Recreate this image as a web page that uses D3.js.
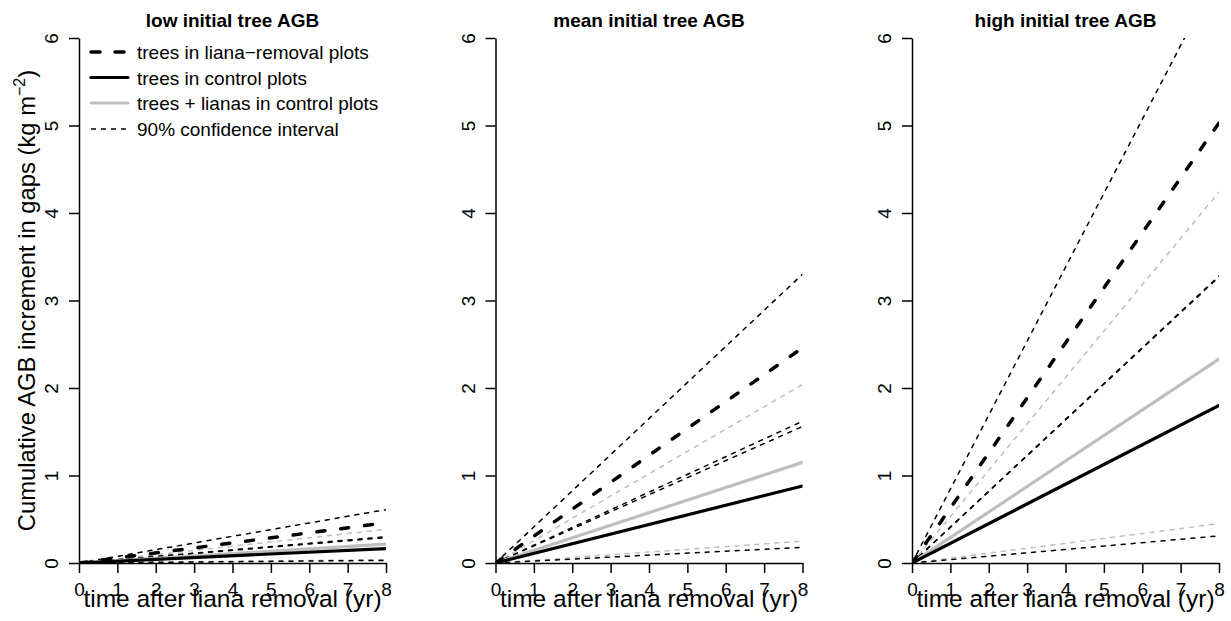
<!DOCTYPE html>
<html>
<head>
<meta charset="utf-8">
<script src="https://cdn.jsdelivr.net/npm/d3@7"></script>
<style>
  body { margin: 0; background: #fff; }
  svg, svg text { font-family: "Liberation Sans", Arial, Helvetica, sans-serif; }
</style>
</head>
<body>
<svg id="chart" width="1231" height="621"></svg>
<script>
// panel titles
panels = ["low initial tree AGB", "mean initial tree AGB", "high initial tree AGB"]

// time points (yr) of every line
times = [0, 8]

// cumulative AGB increment (kg m-2) at each time, one row per panel
removalMean = [[0, 0.46], [0, 2.46], [0, 5.03]]
removalUpper = [[0, 0.61], [0, 3.30], [0, 6.76]]
removalLower = [[0, 0.30], [0, 1.62], [0, 3.28]]
controlMean = [[0, 0.165], [0, 0.88], [0, 1.80]]
controlUpper = [[0, 0.29], [0, 1.56], [0, 3.27]]
controlLower = [[0, 0.03], [0, 0.18], [0, 0.31]]
lianaMean = [[0, 0.215], [0, 1.15], [0, 2.33]]
lianaUpper = [[0, 0.385], [0, 2.04], [0, 4.24]]
lianaLower = [[0, 0.04], [0, 0.25], [0, 0.45]]

xTicks = [0, 1, 2, 3, 4, 5, 6, 7, 8]
yTicks = [0, 1, 2, 3, 4, 5, 6]

legendLabels = ["trees in liana\u2212removal plots", "trees in control plots",
                "trees + lianas in control plots", "90% confidence interval"]

gray = "#bebebe"
styles = {
    thickDash: {stroke: "black", width: 3.5, dash: "8 16"},
    solid:     {stroke: "black", width: 3.2, dash: null},
    graySolid: {stroke: gray, width: 3.2, dash: null},
    ci:        {stroke: "black", width: 1.5, dash: "4 6"},
    grayCi:    {stroke: gray, width: 1.5, dash: "4 6"}
}

svg = d3.select("#chart")

top_ = 38
bottom = 563
plotW = 307
step = 416.5
left0 = 79

yScale = d3.scaleLinear().domain([0, 6]).range([bottom, top_])

function drawLine(g, xScale, vals, st){
    pts = times.map((t, i) => [t, vals[i]])
    line = d3.line().x(d => xScale(d[0])).y(d => yScale(d[1]))
    p = g.append("path")
        .attr("d", line(pts))
        .attr("fill", "none")
        .attr("stroke", st.stroke)
        .attr("stroke-width", st.width)
        .attr("stroke-linecap", "round")
    if(st.dash) p.attr("stroke-dasharray", st.dash)
}

panels.forEach(function(title, k){
    left = left0 + k*step
    xScale = d3.scaleLinear().domain([0, 8]).range([left, left + plotW])

    svg.append("clipPath").attr("id", "clip" + k)
        .append("rect")
        .attr("x", left).attr("y", top_)
        .attr("width", plotW).attr("height", bottom - top_)

    g = svg.append("g").attr("clip-path", `url(#clip${k})`)

    // confidence intervals first, then the means
    drawLine(g, xScale, lianaLower[k], styles.grayCi)
    drawLine(g, xScale, lianaUpper[k], styles.grayCi)
    drawLine(g, xScale, controlLower[k], styles.ci)
    drawLine(g, xScale, controlUpper[k], styles.ci)
    drawLine(g, xScale, removalLower[k], styles.ci)
    drawLine(g, xScale, removalUpper[k], styles.ci)
    drawLine(g, xScale, lianaMean[k], styles.graySolid)
    drawLine(g, xScale, controlMean[k], styles.solid)
    drawLine(g, xScale, removalMean[k], styles.thickDash)

    // axes
    ya = svg.append("g")
        .attr("transform", `translate(${left},0)`)
        .call(d3.axisLeft(yScale).tickValues(yTicks).tickSize(10).tickSizeOuter(0).tickFormat(d3.format("d")))
    ya.attr("font-family", null).attr("font-size", 19)
    ya.selectAll("text")
        .attr("transform", "rotate(-90)")
        .attr("x", 0).attr("y", -21).attr("dy", null)
        .attr("text-anchor", "middle")
        .style("font-size", "19px").attr("fill", "black")

    xa = svg.append("g")
        .attr("transform", `translate(0,${bottom})`)
        .call(d3.axisBottom(xScale).tickValues(xTicks).tickSize(10).tickSizeOuter(0).tickFormat(d3.format("d")))
    xa.attr("font-family", null).attr("font-size", 19)
    xa.selectAll("text")
        .attr("y", 33).attr("dy", null)
        .style("font-size", "19px").attr("fill", "black")

    svg.selectAll(".domain, .tick line")
        .attr("stroke", "black").attr("stroke-width", 1.5)

    // title
    svg.append("text")
        .attr("x", left + plotW/2).attr("y", 27)
        .attr("text-anchor", "middle")
        .attr("font-weight", "bold").attr("font-size", 19)
        .text(title)

    // x label
    svg.append("text")
        .attr("x", left + plotW/2).attr("y", 607)
        .attr("text-anchor", "middle")
        .attr("font-size", 24.5)
        .text("time after liana removal (yr)")
})

// y label
ylab = svg.append("text")
    .attr("transform", `translate(35,${(top_ + bottom)/2}) rotate(-90)`)
    .attr("text-anchor", "middle")
    .attr("font-size", 23.8)
ylab.append("tspan").text("Cumulative AGB increment in gaps (kg m")
ylab.append("tspan").attr("dy", -10).attr("font-size", 16).text("\u22122")
ylab.append("tspan").attr("dy", 10).text(")")

// legend
legendStyles = [styles.thickDash, styles.solid, styles.graySolid, styles.ci]
legendY = [52, 77.5, 103, 129]
leg = svg.append("g")
legendLabels.forEach(function(lab, i){
    st = legendStyles[i]
    l = leg.append("line")
        .attr("x1", 91).attr("x2", 128)
        .attr("y1", legendY[i]).attr("y2", legendY[i])
        .attr("stroke", st.stroke).attr("stroke-width", st.width)
        .attr("stroke-linecap", i == 3 ? "butt" : "round")
    if(i == 0) l.attr("stroke-dasharray", "9 15")
    if(i == 3) l.attr("stroke-dasharray", "5 5")
    leg.append("text")
        .attr("x", 137).attr("y", legendY[i] + 7)
        .attr("font-size", 19)
        .text(lab)
})
</script>
</body>
</html>
